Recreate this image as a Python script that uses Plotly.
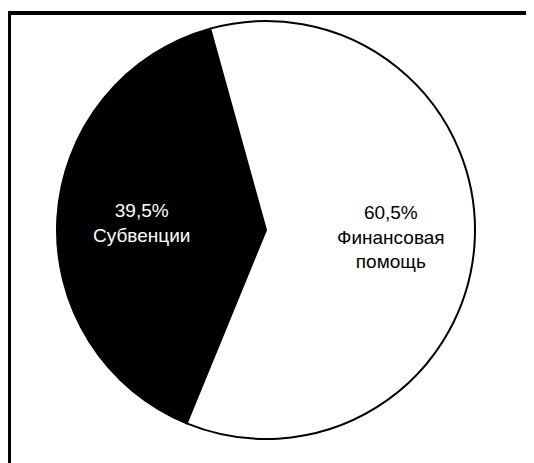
import math
import plotly.graph_objects as go

labels = ["Субвенции", "Финансовая<br>помощь"]
values = [39.5, 60.5]
value_labels = ["39,5%", "60,5%"]
colors = ["#000000", "#ffffff"]
text_colors = ["#ffffff", "#000000"]

texts = [f"{v}<br>{l}" for v, l in zip(value_labels, labels)]

W, H = 526, 455
L, R, T, B = 49, 59, 13, 24
PW, PH = W - L - R, H - T - B
ROT = -157.7  # start angle of first slice, degrees clockwise from 12 o'clock
LABEL_R = 0.597  # label distance from centre, fraction of radius


def px(x):
    return (x - L) / PW


def py(y):
    return (H - B - y) / PH


fig = go.Figure(go.Pie(
    labels=labels,
    values=values,
    textinfo="none",
    sort=False,
    direction="counterclockwise",
    rotation=ROT,
    marker=dict(colors=colors, line=dict(color="#000000", width=2)),
    hoverinfo="none",
    showlegend=False,
))

# label positions derived from slice mid-angles
annotations = []
total = sum(values)
start = ROT
for txt, v, tc in zip(texts, values, text_colors):
    span = 360 * v / total
    mid = math.radians(start + span / 2)
    start += span
    annotations.append(dict(
        xref="paper", yref="paper",
        x=0.5 + 0.5 * LABEL_R * math.sin(mid),
        y=0.5 + 0.5 * LABEL_R * math.cos(mid),
        text=txt, showarrow=False, align="center",
        xanchor="center", yanchor="middle",
        font=dict(color=tc, size=19, family="Liberation Sans, Arial, sans-serif"),
    ))

fig.update_layout(
    width=W, height=H,
    margin=dict(l=L, r=R, t=T, b=B, pad=0),
    paper_bgcolor="#ffffff",
    plot_bgcolor="#ffffff",
    annotations=annotations,
    shapes=[
        dict(type="line", xref="paper", yref="paper", x0=px(-1), x1=px(W + 10),
             y0=py(5), y1=py(5), line=dict(color="#000", width=4)),
        dict(type="line", xref="paper", yref="paper", x0=px(1), x1=px(1),
             y0=py(3), y1=py(H + 10), line=dict(color="#000", width=4)),
    ],
)

fig.write_html("out.html")
